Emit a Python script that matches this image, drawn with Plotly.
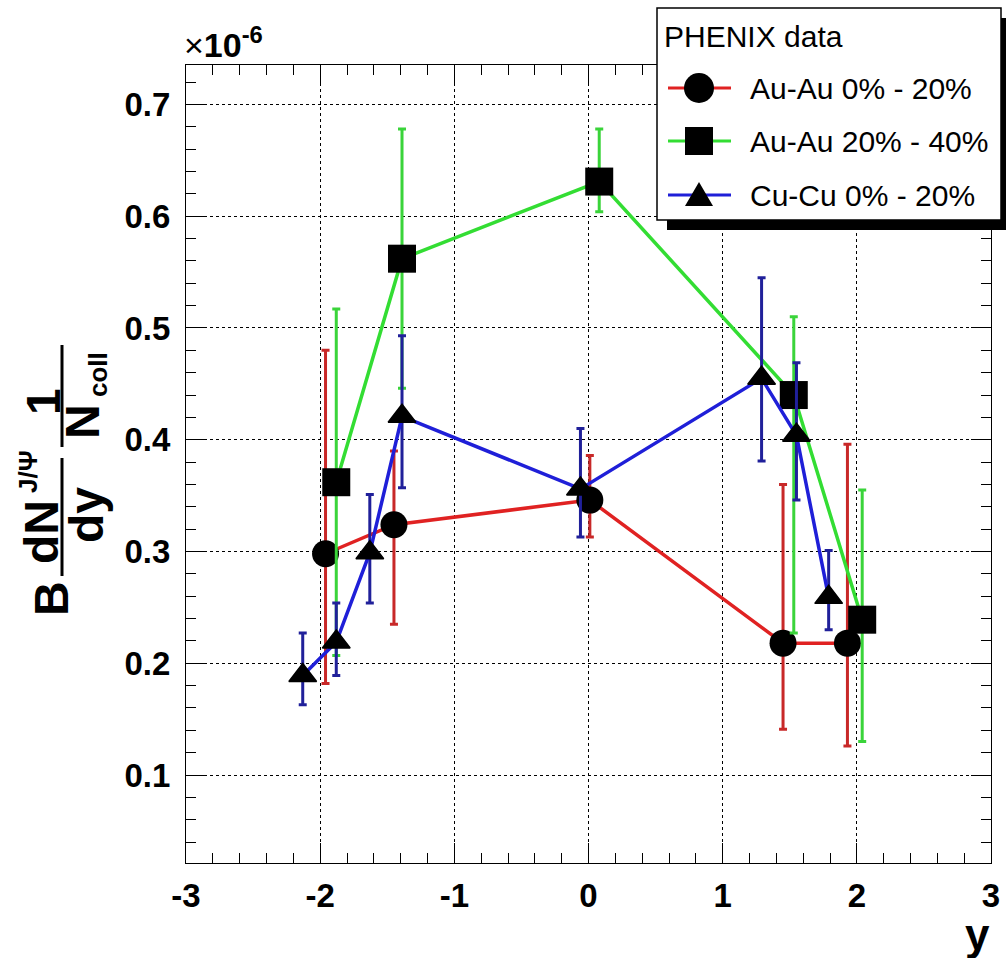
import plotly.graph_objects as go

# J/psi yield per binary collision versus rapidity, in units of 1e-6
auau_0020_rap = [-1.96, -1.45, 0.01, 1.45, 1.93]
auau_0020_val = [0.298, 0.324, 0.346, 0.218, 0.218]
auau_0020_err_up = [0.182, 0.066, 0.040, 0.142, 0.178]
auau_0020_err_dn = [0.116, 0.089, 0.033, 0.077, 0.092]

auau_2040_rap = [-1.88, -1.39, 0.08, 1.53, 2.04]
auau_2040_val = [0.362, 0.562, 0.631, 0.440, 0.239]
auau_2040_err_up = [0.155, 0.116, 0.047, 0.070, 0.116]
auau_2040_err_dn = [0.155, 0.116, 0.027, 0.213, 0.109]

cucu_0020_rap = [-2.13, -1.88, -1.63, -1.39, -0.06, 1.29, 1.55, 1.79]
cucu_0020_val = [0.189, 0.219, 0.299, 0.421, 0.356, 0.455, 0.404, 0.259]
cucu_0020_err_up = [0.038, 0.035, 0.052, 0.072, 0.054, 0.090, 0.065, 0.042]
cucu_0020_err_dn = [0.026, 0.030, 0.045, 0.064, 0.043, 0.074, 0.058, 0.029]

series_names = ["Au-Au 0% - 20%", "Au-Au 20% - 40%", "Cu-Cu 0% - 20%"]
legend_title = "PHENIX data"

x_tick_vals = [-3, -2, -1, 0, 1, 2, 3]
x_tick_text = ["-3", "-2", "-1", "0", "1", "2", "3"]
y_tick_vals = [0.1, 0.2, 0.3, 0.4, 0.5, 0.6, 0.7]
y_tick_text = ["0.1", "0.2", "0.3", "0.4", "0.5", "0.6", "0.7"]

# ---- styling -------------------------------------------------------------
W, H = 1006, 958
ML, MR, MT, MB = 186, 15, 65, 95
FONT = "Liberation Sans, Arial, Helvetica, sans-serif"

styles = [
    dict(line="#e02222", bar="#c82828", symbol="circle", size=27, legend_shape="circle"),
    dict(line="#33dd33", bar="#3ad43a", symbol="square", size=28, legend_shape="square"),
    dict(line="#1f1fd8", bar="#20209a", symbol="triangle-up", size=24, legend_shape="triangle"),
]


def px(x):
    """Figure pixel column -> paper x."""
    return (x - ML) / (W - ML - MR)


def py(y):
    """Figure pixel row -> paper y."""
    return (H - MB - y) / (H - MT - MB)


series = [
    (auau_0020_rap, auau_0020_val, auau_0020_err_up, auau_0020_err_dn),
    (auau_2040_rap, auau_2040_val, auau_2040_err_up, auau_2040_err_dn),
    (cucu_0020_rap, cucu_0020_val, cucu_0020_err_up, cucu_0020_err_dn),
]

fig = go.Figure()
for name, (xs, ys, eu, ed), st in zip(series_names, series, styles):
    fig.add_trace(go.Scatter(
        x=xs, y=ys, name=name, mode="lines+markers",
        line=dict(color=st["line"], width=3.5),
        marker=dict(symbol=st["symbol"], size=st["size"], color="black",
                    line=dict(color="black", width=1.5 if st["symbol"] == "triangle-up" else 0)),
        error_y=dict(type="data", symmetric=False, array=eu, arrayminus=ed,
                     color=st["bar"], thickness=3, width=4),
        showlegend=False,
    ))

axis_common = dict(
    showline=True, linecolor="black", linewidth=1.2, mirror="allticks",
    showgrid=True, gridcolor="black", gridwidth=1, griddash="3px,3px",
    zeroline=False, ticks="inside", ticklen=20, tickwidth=1, tickcolor="black",
    tickfont=dict(family=FONT, size=33, color="black", weight="bold"),
)

fig.update_xaxes(
    range=[-3, 3], tickmode="array", tickvals=x_tick_vals, ticktext=x_tick_text,
    minor=dict(tick0=0, dtick=0.2, ticks="inside", ticklen=10, tickwidth=1,
               tickcolor="black", showgrid=False),
    ticklabelstandoff=3,
    **axis_common,
)
fig.update_yaxes(
    range=[0.0213, 0.7353], tickmode="array", tickvals=y_tick_vals, ticktext=y_tick_text,
    minor=dict(tick0=0, dtick=0.02, ticks="inside", ticklen=10, tickwidth=1,
               tickcolor="black", showgrid=False),
    ticklabelstandoff=8,
    **axis_common,
)

shapes = []
annotations = []


def text(t, x, y, size, bold=True, angle=0, xanchor="center", yanchor="middle"):
    annotations.append(dict(
        text=t, x=px(x), y=py(y), xref="paper", yref="paper",
        xanchor=xanchor, yanchor=yanchor, showarrow=False, textangle=angle,
        borderpad=0, font=dict(family=FONT, size=size, color="black",
                               weight="bold" if bold else "normal"),
    ))


# exponent above the y axis
text("×<b>10</b><sup><b>-6</b></sup>", 183, MT, 34, bold=False, xanchor="left", yanchor="bottom")

# x axis title
text("y", 991, 934, 44, xanchor="right")

# y axis title: B (dN^{J/Psi}/dy) (1/N_coll), rotated
text("B", 51, 599, 48, angle=-90)
text("dN", 41, 532, 48, angle=-90)
text("J/Ψ", 28, 472, 26, angle=-90)
text("dy", 86, 515, 48, angle=-90)
text("1", 44, 402, 48, angle=-90)
text("N", 83, 422, 48, angle=-90)
text("coll", 98, 375, 26, angle=-90)
for y0, y1 in [(458, 576), (345, 447)]:
    shapes.append(dict(type="line", xref="paper", yref="paper",
                       x0=px(62), x1=px(62), y0=py(y0), y1=py(y1),
                       line=dict(color="black", width=3)))

# legend panel with drop shadow
shapes.append(dict(type="rect", xref="paper", yref="paper",
                   x0=px(667), x1=px(1012), y0=py(230), y1=py(18),
                   fillcolor="black", line=dict(width=0), layer="above"))
shapes.append(dict(type="rect", xref="paper", yref="paper",
                   x0=px(657), x1=px(1001), y0=py(220), y1=py(8),
                   fillcolor="white", line=dict(color="black", width=1.5), layer="above"))
text(legend_title, 663, 37, 30, bold=False, xanchor="left")

legend_rows = [88, 141, 195]
marker_paths = {
    "circle": None,
    "square": None,
    "triangle": "M -14,-11 L 14,-11 L 0,13 Z",
}
for name, st, ry in zip(series_names, styles, legend_rows):
    shapes.append(dict(type="line", xref="paper", yref="paper",
                       x0=px(668), x1=px(731), y0=py(ry), y1=py(ry),
                       line=dict(color=st["line"], width=3), layer="above"))
    anchor = dict(xref="paper", yref="paper", xsizemode="pixel", ysizemode="pixel",
                  xanchor=px(699), yanchor=py(ry), fillcolor="black",
                  line=dict(width=0), layer="above")
    if st["legend_shape"] == "circle":
        shapes.append(dict(type="circle", x0=-15, x1=15, y0=-15, y1=15, **anchor))
    elif st["legend_shape"] == "square":
        shapes.append(dict(type="rect", x0=-14, x1=14, y0=-14, y1=14, **anchor))
    else:
        shapes.append(dict(type="path", path=marker_paths["triangle"], **anchor))
    text(name, 749, ry, 30, bold=False, xanchor="left")

fig.update_layout(
    width=W, height=H,
    margin=dict(l=ML, r=MR, t=MT, b=MB, autoexpand=False),
    paper_bgcolor="white", plot_bgcolor="white",
    shapes=shapes, annotations=annotations,
    showlegend=False,
)

fig.write_html("out.html")
